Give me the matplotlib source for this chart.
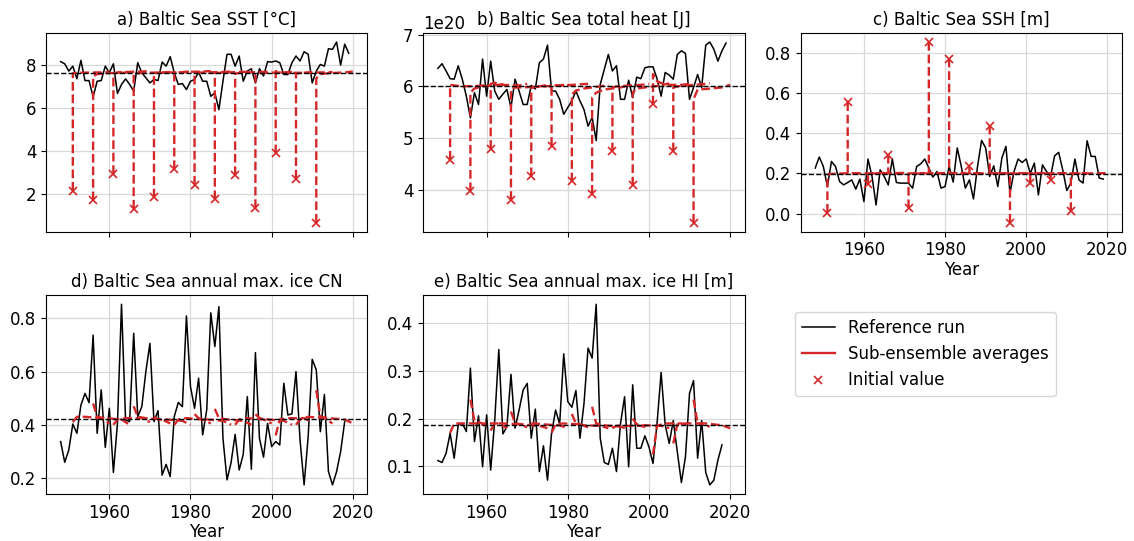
import numpy as np
import matplotlib
matplotlib.use("Agg")
import matplotlib.pyplot as plt
from matplotlib.lines import Line2D

plt.rcParams['font.size'] = 12

years = np.arange(1948, 2020)
ice_years = np.arange(1948, 2019)
start_years = np.arange(1951, 2012, 5)
# years after start at which the sub-ensemble mean is stored
ens_offsets = [0, 1, 3, 7, 9]

sst_ref = [8.16, 8.06, 7.72, 7.95, 7.36, 8.22, 7.28, 7.28, 6.52, 7.25,
           7.28, 7.95, 7.64, 8.06, 6.68, 7.10, 7.36, 7.10, 6.79, 8.11,
           7.64, 7.41, 7.17, 7.33, 7.28, 8.14, 7.95, 8.39, 7.64, 7.10,
           7.14, 6.86, 7.25, 7.33, 7.67, 7.25, 7.25, 6.55, 6.71, 5.93,
           7.25, 8.50, 8.50, 7.95, 8.42, 7.25, 7.72, 7.83, 7.17, 7.83,
           7.49, 8.16, 8.14, 8.19, 8.11, 7.56, 7.56, 8.11, 8.42, 8.19,
           8.62, 8.50, 7.17, 7.72, 8.03, 7.95, 8.76, 8.73, 9.07, 8.00,
           8.97, 8.55]
sst_mean = 7.64
sst_init = [2.16, 1.72, 2.94, 1.33, 1.85, 3.17, 2.45, 1.77, 2.89, 1.36, 3.90, 2.73, 0.68]
sst_ens = [[7.62, 7.64, 7.65, 7.66, 7.68],
           [7.48, 7.58, 7.62, 7.64, 7.66],
           [7.60, 7.66, 7.68, 7.70, 7.72],
           [7.55, 7.62, 7.64, 7.66, 7.68],
           [7.60, 7.64, 7.65, 7.67, 7.70],
           [7.62, 7.66, 7.68, 7.70, 7.72],
           [7.60, 7.65, 7.66, 7.68, 7.70],
           [7.62, 7.64, 7.66, 7.68, 7.70],
           [7.60, 7.64, 7.66, 7.68, 7.70],
           [7.55, 7.62, 7.64, 7.66, 7.68],
           [7.72, 7.66, 7.64, 7.64, 7.66],
           [7.60, 7.64, 7.65, 7.66, 7.68],
           [7.38, 7.58, 7.62, 7.66, 7.70]]

# total heat in units of 1e20 J
heat_ref = [6.35, 6.44, 6.30, 6.15, 6.14, 6.40, 6.14, 5.81, 5.39, 5.88,
            5.65, 6.53, 5.81, 6.49, 5.91, 5.75, 5.85, 5.94, 5.59, 6.14,
            5.91, 5.65, 5.65, 6.02, 5.95, 6.46, 6.53, 6.80, 5.91, 5.91,
            5.75, 5.46, 5.59, 5.72, 5.91, 5.72, 5.55, 5.23, 5.40, 4.95,
            6.04, 6.33, 6.62, 6.30, 6.40, 5.75, 5.75, 6.12, 5.78, 6.18,
            6.15, 6.36, 6.38, 6.38, 6.15, 5.81, 6.27, 6.22, 6.14, 6.62,
            6.69, 6.64, 5.75, 5.98, 6.23, 5.98, 6.80, 6.86, 6.72, 6.49,
            6.69, 6.84]
heat_mean = 6.0
heat_init = [4.58, 3.97, 4.79, 3.80, 4.26, 4.85, 4.16, 3.92, 4.74, 4.08, 5.65, 4.74, 3.36]
heat_ens = [[6.03, 6.02, 6.00, 6.01, 6.03],
            [5.88, 5.96, 6.00, 6.03, 6.05],
            [6.05, 6.07, 6.03, 6.02, 6.05],
            [5.95, 5.98, 5.98, 6.00, 6.03],
            [5.97, 5.99, 6.00, 6.02, 6.04],
            [6.00, 6.02, 6.02, 6.04, 6.05],
            [5.84, 5.92, 5.96, 6.00, 6.03],
            [5.78, 5.88, 5.94, 5.98, 6.02],
            [5.98, 6.00, 6.01, 6.03, 6.05],
            [5.88, 5.96, 5.98, 6.02, 6.06],
            [6.24, 6.10, 6.03, 6.03, 6.05],
            [5.98, 6.00, 6.02, 6.04, 6.06],
            [5.75, 5.94, 5.95, 5.98, 6.03]]

ssh_ref = [0.227, 0.282, 0.235, 0.135, 0.260, 0.235, 0.160, 0.143, 0.155, 0.168,
           0.122, 0.172, 0.060, 0.272, 0.185, 0.043, 0.218, 0.185, 0.143, 0.272,
           0.155, 0.152, 0.152, 0.152, 0.127, 0.235, 0.248, 0.272, 0.227, 0.182,
           0.210, 0.127, 0.135, 0.235, 0.157, 0.327, 0.235, 0.127, 0.168, 0.073,
           0.235, 0.365, 0.327, 0.185, 0.238, 0.135, 0.277, 0.335, 0.102, 0.210,
           0.272, 0.255, 0.272, 0.200, 0.252, 0.093, 0.243, 0.210, 0.185, 0.288,
           0.305, 0.218, 0.115, 0.152, 0.272, 0.168, 0.152, 0.363, 0.285, 0.285,
           0.177, 0.172]
ssh_mean = 0.197
ssh_init = [0.005, 0.555, 0.148, 0.293, 0.027, 0.855, 0.772, 0.235, 0.438, -0.045, 0.152, 0.168, 0.013]
ssh_ens = [[0.195, 0.198, 0.200, 0.201, 0.202],
           [0.203, 0.200, 0.200, 0.201, 0.203],
           [0.198, 0.200, 0.201, 0.202, 0.203],
           [0.202, 0.200, 0.200, 0.201, 0.202],
           [0.196, 0.199, 0.200, 0.201, 0.202],
           [0.206, 0.201, 0.200, 0.201, 0.203],
           [0.205, 0.201, 0.200, 0.201, 0.202],
           [0.201, 0.200, 0.200, 0.201, 0.202],
           [0.204, 0.201, 0.200, 0.201, 0.202],
           [0.194, 0.199, 0.200, 0.201, 0.202],
           [0.199, 0.200, 0.200, 0.201, 0.202],
           [0.199, 0.200, 0.200, 0.201, 0.202],
           [0.195, 0.199, 0.200, 0.201, 0.202]]

cn_ref = [0.337, 0.259, 0.305, 0.403, 0.368, 0.474, 0.518, 0.483, 0.737, 0.368,
          0.531, 0.315, 0.462, 0.221, 0.405, 0.853, 0.418, 0.412, 0.744, 0.431,
          0.468, 0.600, 0.706, 0.412, 0.453, 0.211, 0.251, 0.205, 0.431, 0.484,
          0.468, 0.809, 0.543, 0.462, 0.575, 0.362, 0.456, 0.821, 0.694, 0.844,
          0.349, 0.193, 0.258, 0.364, 0.230, 0.289, 0.506, 0.233, 0.671, 0.349,
          0.278, 0.405, 0.318, 0.337, 0.324, 0.556, 0.437, 0.441, 0.600, 0.343,
          0.174, 0.355, 0.646, 0.606, 0.374, 0.514, 0.224, 0.174, 0.224, 0.299,
          0.412]
cn_mean = 0.42
cn_ens = [[0.41, 0.43, 0.430, 0.425, 0.405],
          [0.48, 0.43, 0.425, 0.420, 0.400],
          [0.40, 0.42, 0.425, 0.425, 0.410],
          [0.47, 0.43, 0.425, 0.420, 0.405],
          [0.43, 0.42, 0.420, 0.415, 0.400],
          [0.40, 0.42, 0.425, 0.420, 0.405],
          [0.44, 0.425, 0.420, 0.415, 0.400],
          [0.46, 0.425, 0.420, 0.415, 0.400],
          [0.40, 0.42, 0.425, 0.420, 0.405],
          [0.44, 0.425, 0.420, 0.415, 0.400],
          [0.36, 0.42, 0.425, 0.425, 0.410],
          [0.40, 0.42, 0.430, 0.425, 0.405],
          [0.53, 0.43, 0.425, 0.420, 0.405]]

hi_ref = [0.112, 0.108, 0.127, 0.169, 0.117, 0.187, 0.190, 0.173, 0.306, 0.152,
          0.206, 0.099, 0.208, 0.092, 0.197, 0.345, 0.168, 0.183, 0.293, 0.180,
          0.218, 0.260, 0.274, 0.159, 0.220, 0.089, 0.143, 0.071, 0.169, 0.218,
          0.189, 0.336, 0.236, 0.224, 0.259, 0.159, 0.232, 0.348, 0.327, 0.440,
          0.159, 0.108, 0.104, 0.138, 0.089, 0.190, 0.246, 0.099, 0.271, 0.138,
          0.138, 0.164, 0.141, 0.106, 0.190, 0.297, 0.187, 0.148, 0.196, 0.130,
          0.066, 0.120, 0.253, 0.280, 0.117, 0.196, 0.087, 0.061, 0.071, 0.113,
          0.145]
hi_mean = 0.187
hi_ens = [[0.170, 0.190, 0.190, 0.190, 0.185],
          [0.240, 0.195, 0.190, 0.190, 0.180],
          [0.175, 0.190, 0.190, 0.188, 0.182],
          [0.215, 0.190, 0.188, 0.185, 0.180],
          [0.190, 0.190, 0.188, 0.186, 0.180],
          [0.170, 0.188, 0.190, 0.188, 0.182],
          [0.210, 0.190, 0.186, 0.185, 0.180],
          [0.225, 0.190, 0.186, 0.183, 0.178],
          [0.180, 0.185, 0.185, 0.185, 0.180],
          [0.200, 0.188, 0.186, 0.185, 0.180],
          [0.125, 0.185, 0.190, 0.190, 0.185],
          [0.148, 0.188, 0.190, 0.190, 0.183],
          [0.240, 0.190, 0.190, 0.186, 0.180]]

red = '#d62728'


def panel(ax, yrs, ref, mean, ens, init=None, scale=1.0, title=''):
    ax.plot(yrs, np.array(ref) * scale, color='k', lw=1.1, zorder=2)
    for i, y0 in enumerate(start_years):
        x = [y0 + o for o in ens_offsets]
        y = list(ens[i])
        if init is not None:
            # jump from the initial state to the first ensemble mean
            x = [y0] + x
            y = [init[i]] + y
        ax.plot(x, np.array(y) * scale, color=red, ls='--', lw=1.7, zorder=3)
    if init is not None:
        ax.plot(start_years, np.array(init) * scale, 'x', color=red, ms=6, mew=1.2, zorder=4)
    ax.axhline(mean * scale, color='k', ls='--', lw=1, zorder=5)
    ax.set_title(title, fontsize=12)
    ax.grid(True, color='#d9d9d9', lw=0.9)
    ax.set_axisbelow(True)
    ax.set_xticks([1960, 1980, 2000, 2020])


fig, axs = plt.subplots(2, 3, figsize=(11.34, 5.41), dpi=100)
fig.subplots_adjust(left=0.0406, right=0.9894, top=0.939, bottom=0.087, wspace=0.174, hspace=0.32)

panel(axs[0, 0], years, sst_ref, sst_mean, sst_ens, sst_init, title='a) Baltic Sea SST [°C]')
panel(axs[0, 1], years, heat_ref, heat_mean, heat_ens, heat_init, scale=1e20, title='b) Baltic Sea total heat [J]')
panel(axs[0, 2], years, ssh_ref, ssh_mean, ssh_ens, ssh_init, title='c) Baltic Sea SSH [m]')
panel(axs[1, 0], ice_years, cn_ref, cn_mean, cn_ens, title='d) Baltic Sea annual max. ice CN')
panel(axs[1, 1], ice_years, hi_ref, hi_mean, hi_ens, title='e) Baltic Sea annual max. ice HI [m]')

axs[0, 0].tick_params(labelbottom=False)
axs[0, 1].tick_params(labelbottom=False)
axs[0, 1].set_yticks([4e20, 5e20, 6e20, 7e20])
axs[0, 2].set_yticks([0.0, 0.2, 0.4, 0.6, 0.8])
for ax in [axs[0, 2], axs[1, 0], axs[1, 1]]:
    ax.set_xlabel('Year', labelpad=1)

axs[1, 2].axis('off')
handles = [Line2D([], [], color='k', lw=1.1),
           Line2D([], [], color=red, lw=1.7),
           Line2D([], [], color=red, ls='none', marker='x', ms=6, mew=1.2)]
fig.legend(handles, ['Reference run', 'Sub-ensemble averages', 'Initial value'],
           loc='upper left', bbox_to_anchor=(795 / 1134, 1 - 312 / 541),
           borderaxespad=0, fontsize=12)

plt.savefig('out.png')
